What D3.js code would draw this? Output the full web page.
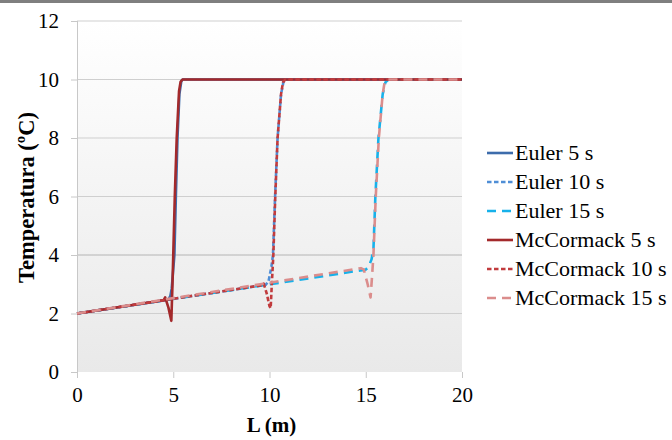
<!DOCTYPE html>
<meta charset="utf-8"/>
<style>
    body { margin: 0; background: #fff; }
    text { font-family: "Liberation Serif", "Times New Roman", serif; fill: #000; }
    .grid line { stroke-width: 1px; }
    .axis path, .axis line { stroke: #c8c8c8; }
</style>
<svg width="672" height="440"></svg>
<script src="https://d3js.org/d3.v7.min.js"></script>
<script>

  // data: [L (m), temperature (C)]
  var euler5 = [[0, 2], [4.75, 2.47], [4.85, 2.6], [4.92, 2.85], [5.06, 4.0], [5.14, 6.1], [5.22, 8.0], [5.32, 9.5], [5.42, 9.95], [5.5, 10], [20, 10]];
  var euler10 = [[0, 2], [9.8, 2.98], [9.95, 3.1], [10.1, 3.6], [10.18, 4.0], [10.29, 6.0], [10.42, 8.0], [10.6, 9.5], [10.72, 9.9], [10.85, 10], [20, 10]];
  var euler15 = [[0, 2], [15.0, 3.5], [15.15, 3.6], [15.3, 3.85], [15.4, 4.2], [15.5, 6.0], [15.66, 8.0], [15.88, 9.5], [16.02, 9.9], [16.18, 10], [20, 10]];
  var mccormack5 = [[0, 2], [4.5, 2.45], [4.58, 2.55], [4.75, 2.2], [4.9, 1.75], [4.96, 3.0], [5.0, 4.0], [5.08, 6.0], [5.18, 8.0], [5.3, 9.6], [5.38, 9.92], [5.48, 10], [20, 10]];
  var mccormack10 = [[0, 2], [9.55, 2.96], [9.7, 3.02], [9.85, 2.7], [10.0, 2.25], [10.06, 2.18], [10.12, 3.0], [10.2, 4.0], [10.3, 6.0], [10.42, 8.0], [10.6, 9.5], [10.7, 9.9], [10.82, 10], [20, 10]];
  var mccormack15 = [[0, 2], [14.75, 3.55], [14.9, 3.5], [15.1, 3.0], [15.25, 2.55], [15.32, 3.2], [15.4, 4.0], [15.52, 6.0], [15.68, 8.0], [15.88, 9.5], [15.98, 9.9], [16.12, 10], [20, 10]];

  var seriesNames = ["Euler 5 s", "Euler 10 s", "Euler 15 s", "McCormack 5 s", "McCormack 10 s", "McCormack 15 s"];
  var xTicks = [0, 5, 10, 15, 20];
  var yTicks = [0, 2, 4, 6, 8, 10, 12];

  var series = [
    { name: seriesNames[0], values: euler5, color: "#3d6cab", dash: null },
    { name: seriesNames[1], values: euler10, color: "#4f8ed6", dash: "4.5,2.5" },
    { name: seriesNames[2], values: euler15, color: "#17b1ea", dash: "9,6" },
    { name: seriesNames[3], values: mccormack5, color: "#a3292b", dash: null },
    { name: seriesNames[4], values: mccormack10, color: "#c13b3d", dash: "4.5,2.5" },
    { name: seriesNames[5], values: mccormack15, color: "#db8d8c", dash: "9,6" }
  ];

  var svg = d3.select("svg"),
    width = +svg.attr("width"),
    height = +svg.attr("height");

  var margin = { left: 77, right: 210, top: 21, bottom: 68 };
  var plotW = width - margin.left - margin.right,
    plotH = height - margin.top - margin.bottom;

  var x = d3.scaleLinear().domain([0, 20]).range([margin.left, margin.left + plotW]);
  var y = d3.scaleLinear().domain([0, 12]).range([margin.top + plotH, margin.top]);

  // dark strip along the top edge
  svg.append("rect")
    .attr("x", 0).attr("y", 0)
    .attr("width", width).attr("height", 3)
    .attr("fill", "#7f7f7f");

  // plot background gradient
  var defs = svg.append("defs");
  var grad = defs.append("linearGradient")
    .attr("id", "bg")
    .attr("x1", 0).attr("y1", 0).attr("x2", 0).attr("y2", 1);
  grad.append("stop").attr("offset", "0%").attr("stop-color", "#ffffff");
  grad.append("stop").attr("offset", "100%").attr("stop-color", "#e9e9e9");

  svg.append("rect")
    .attr("x", x(0)).attr("y", y(12))
    .attr("width", x(20) - x(0)).attr("height", y(0) - y(12))
    .attr("fill", "url(#bg)");

  // horizontal gridlines
  svg.append("g")
    .attr("class", "grid")
    .selectAll("line")
    .data(yTicks.filter(function (d) { return d > 0; }))
    .enter().append("line")
    .attr("x1", x(0)).attr("x2", x(20))
    .attr("y1", function (d) { return y(d); })
    .attr("y2", function (d) { return y(d); })
    .attr("stroke", function (d) { return d === 4 ? "#b4b4b4" : "#cfcfcf"; });

  // axes
  var xAxis = svg.append("g")
    .attr("class", "axis")
    .attr("transform", "translate(0," + y(0) + ")")
    .call(d3.axisBottom(x).tickValues(xTicks).tickSize(6).tickPadding(9));
  xAxis.select(".domain").remove();

  var yAxis = svg.append("g")
    .attr("class", "axis")
    .attr("transform", "translate(" + x(0) + ",0)")
    .call(d3.axisLeft(y).tickValues(yTicks).tickSize(6).tickPadding(12));
  yAxis.select(".domain").attr("d", "M0.5," + y(12) + "V" + y(0));

  svg.selectAll(".axis")
    .attr("font-family", "Liberation Serif, Times New Roman, serif")
    .attr("font-size", 21);
  svg.selectAll(".axis text")
    .style("font-family", "'Liberation Serif', 'Times New Roman', serif")
    .style("font-size", "21px")
    .attr("fill", "#000");

  // axis titles
  svg.append("text")
    .attr("x", (x(0) + x(20)) / 2 + 2)
    .attr("y", 432)
    .attr("text-anchor", "middle")
    .style("font-size", "21px")
    .style("font-weight", "bold")
    .text("L (m)");

  svg.append("text")
    .attr("transform", "translate(34," + (y(6) + 1) + ") rotate(-90)")
    .attr("text-anchor", "middle")
    .style("font-size", "22.5px")
    .style("font-weight", "bold")
    .text("Temperatura (ºC)");

  // lines
  var line = d3.line()
    .x(function (d) { return x(d[0]); })
    .y(function (d) { return y(d[1]); });

  svg.append("g")
    .selectAll("path")
    .data(series)
    .enter().append("path")
    .attr("d", function (d) { return line(d.values); })
    .attr("fill", "none")
    .attr("stroke", function (d) { return d.color; })
    .attr("stroke-width", 2.6)
    .attr("stroke-linejoin", "round")
    .attr("stroke-dasharray", function (d) { return d.dash; });

  // legend
  var legend = svg.append("g")
    .selectAll("g")
    .data(series)
    .enter().append("g")
    .attr("transform", function (d, i) { return "translate(487," + (153 + i * 29) + ")"; });

  legend.append("line")
    .attr("x1", 0).attr("x2", 26)
    .attr("stroke", function (d) { return d.color; })
    .attr("stroke-width", 2.6)
    .attr("stroke-dasharray", function (d) { return d.dash; });

  legend.append("text")
    .attr("x", 28)
    .attr("dy", "0.33em")
    .style("font-size", "22px")
    .text(function (d) { return d.name; });

</script>
